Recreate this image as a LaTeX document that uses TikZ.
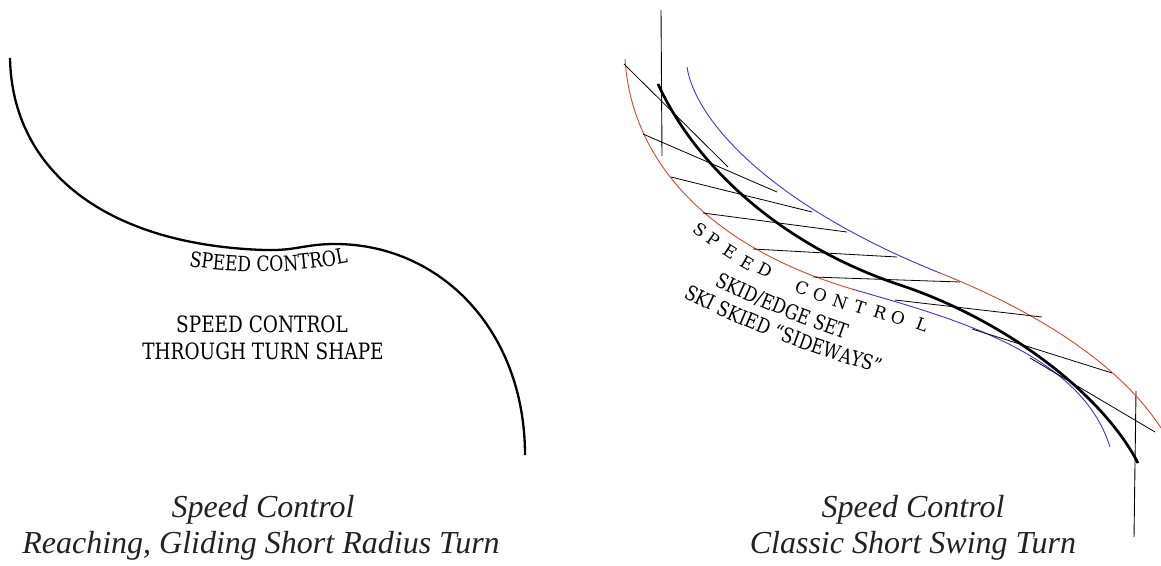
\documentclass[tikz,border=0pt]{standalone}
\usepackage{fontspec}
\setmainfont{Liberation Serif}
\newfontfamily\slab[FakeStretch=0.82]{DejaVu Serif}
\newfontfamily\slabw{DejaVu Serif}
\usetikzlibrary{decorations.text}
\definecolor{skired}{HTML}{DE461E}
\definecolor{skiblue}{HTML}{4A2BE8}
\definecolor{captext}{HTML}{222222}
\begin{document}
\begin{tikzpicture}[x=1pt,y=-1pt,
  turnline/.style={line width=2.3pt},
  skiline/.style={line width=2.7pt},
  hatch/.style={line width=0.8pt},
  edgeline/.style={line width=0.9pt},
  poleline/.style={line width=0.9pt},
  label/.style={font=\slab\fontsize{22.5}{26}\selectfont, inner sep=0pt},
  spaced/.style={font=\slabw\fontsize{17}{20}\selectfont, inner sep=0pt},
  caption/.style={font=\itshape\fontsize{32}{37}\selectfont, text=captext, inner sep=0pt}]
\useasboundingbox (0,0) rectangle (1161,565);

% ---------- left turn ----------
\draw[turnline] (10,58) .. controls (12,170) and (105,245) .. (265,250)
  .. controls (295,251) and (305,244) .. (335,244)
  .. controls (440,244) and (525,330) .. (525,455);

\path[decorate, decoration={text along path, text align=left,
  text={|\slab\fontsize{21}{24}\selectfont|SPEED CONTROL}}]
  (189,266) .. controls (235,274) and (295,275) .. (362,260);

\node[label, anchor=base] (sc1) at (262,332) {SPEED CONTROL};
\node[label, anchor=base] (sc2) at (263,359) {THROUGH TURN SHAPE};

\node[caption, anchor=base] (capL1) at (263,517) {Speed Control};
\node[caption, anchor=base] (capL2) at (261,553) {Reaching, Gliding Short Radius Turn};

% ---------- right turn ----------
% poles
\draw[poleline] (661,10) -- (662,156);
\draw[poleline] (1136,391) -- (1134,537);

% lower-left edge: red then blue
\draw[edgeline, skired] (625,59) .. controls (632,170) and (720,250) .. (852,289);
\draw[edgeline, skiblue] (852,289) .. controls (944,316) and (1080,350) .. (1110,447);

% upper-right edge: blue then red
\draw[edgeline, skiblue] (687,67) .. controls (695,120) and (770,205) .. (940,273);
\draw[edgeline, skired] (940,273) .. controls (1040,313) and (1120,365) .. (1161,428);

% hatch lines
\draw[hatch] (624,64) -- (728,167);
\draw[hatch] (643,134) -- (777,192);
\draw[hatch] (671,177) -- (812,212);
\draw[hatch] (703,213) -- (847,232);
\draw[hatch] (753,249) -- (897,257);
\draw[hatch] (813,277) -- (960,282);
\draw[hatch] (895,300) -- (1042,317);
\draw[hatch] (972,329) -- (1112,373);
\draw[hatch] (1030,358) -- (1155,432);

% ski track
\draw[skiline] (658,84) .. controls (695,165) and (780,245) .. (900,285)
  .. controls (1000,318) and (1100,390) .. (1138,463);

% spaced label
\foreach \l/\px/\py/\a [count=\i] in {S/700/230/36, P/713/240/35, E/730/252/33, E/747/263/30, D/765/270/27, C/802/288/21, O/820/295/20, N/840/302/19, T/860/307/18, R/880/313/18, O/898/318/19, L/922/325/20}
  \node[spaced, rotate=-\a] (sp\i) at (\px,\py) {\l};

\path[decorate, decoration={text along path, text align=left,
  text={|\slab\fontsize{20.5}{24}\selectfont|SKID/EDGE SET}}]
  (714,285) .. controls (752,304) and (810,329) .. (880,351);
\path[decorate, decoration={text along path, text align=left,
  text={|\slab\fontsize{20.5}{24}\selectfont|SKI SKIED “SIDEWAYS”}}]
  (683,297) .. controls (728,321) and (800,353) .. (900,379);

\node[caption, anchor=base] (capR1) at (913,517) {Speed Control};
\node[caption, anchor=base] (capR2) at (913,553) {Classic Short Swing Turn};
\end{tikzpicture}
\end{document}
